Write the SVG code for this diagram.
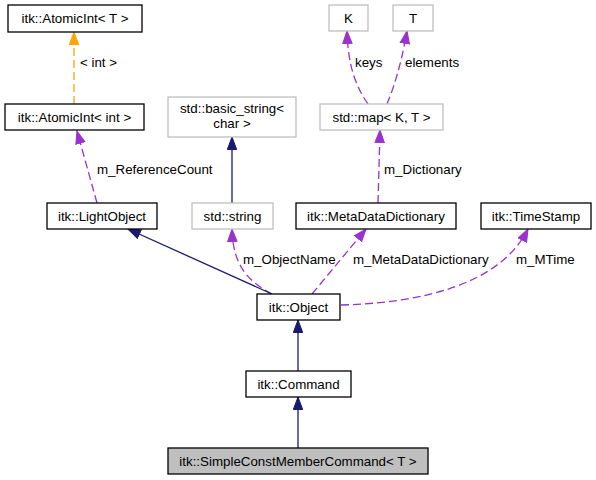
<svg xmlns="http://www.w3.org/2000/svg" width="596" height="480" viewBox="0 0 596 480">
<style>
text{font-family:"Liberation Sans",Arial,sans-serif;font-size:13.33px;fill:#000}
.n text{text-anchor:middle}
.b{fill:#fff;stroke:#000;stroke-width:1.3}
.g{fill:#fff;stroke:#bfbfbf;stroke-width:1.3}
.cur{fill:#bfbfbf;stroke:#000;stroke-width:1.3}
.e{fill:none;stroke-width:1.3}
.nav{stroke:#191970;marker-end:url(#mn)}
.pur{stroke:#9a32cd;stroke-dasharray:8,4;marker-end:url(#mp)}
.org{stroke:#ffa500;stroke-dasharray:8,4;marker-end:url(#mo)}
</style>
<defs>
<marker id="mn" markerUnits="userSpaceOnUse" markerWidth="14" markerHeight="11" viewBox="0 0 14 11" refX="13" refY="5.5" orient="auto"><path d="M0.5,0.8 L13,5.5 L0.5,10.2 z" fill="#191970" stroke="#191970"/></marker>
<marker id="mp" markerUnits="userSpaceOnUse" markerWidth="14" markerHeight="11" viewBox="0 0 14 11" refX="13" refY="5.5" orient="auto"><path d="M0.5,0.8 L13,5.5 L0.5,10.2 z" fill="#9a32cd" stroke="#9a32cd"/></marker>
<marker id="mo" markerUnits="userSpaceOnUse" markerWidth="14" markerHeight="11" viewBox="0 0 14 11" refX="13" refY="5.5" orient="auto"><path d="M0.5,0.8 L13,5.5 L0.5,10.2 z" fill="#ffa500" stroke="#ffa500"/></marker>
</defs>
<rect width="596" height="480" fill="#fff"/>
<g id="edges">
<path class="e org" d="M74,104 L74,32"/>
<path class="e pur" d="M97,203 L77,131"/>
<path class="e nav" d="M232,203 L232,137"/>
<path class="e pur" d="M272,294 C250,282 233,268 232,229"/>
<path class="e nav" d="M272,294 L128,229"/>
<path class="e pur" d="M312,294 L366,229"/>
<path class="e pur" d="M378,203 L380,130"/>
<path class="e pur" d="M368,104 C355,85 348,65 347,31"/>
<path class="e pur" d="M387,104 C395,85 402,60 407,31"/>
<path class="e pur" d="M341,305 C420,303 500,285 528,229"/>
<path class="e nav" d="M298,371 L298,320"/>
<path class="e nav" d="M298,448 L298,397"/>
<text x="80" y="67">&lt; int &gt;</text>
<text x="97" y="174">m_ReferenceCount</text>
<text x="243" y="264">m_ObjectName</text>
<text x="353" y="264">m_MetaDataDictionary</text>
<text x="384" y="174">m_Dictionary</text>
<text x="355" y="67">keys</text>
<text x="405" y="67">elements</text>
<text x="516" y="264">m_MTime</text>
</g>
<g id="atomicT" class="n"><rect class="b" x="8" y="5" width="134" height="27"/><text x="75" y="23">itk::AtomicInt&lt; T &gt;</text></g>
<g id="atomicInt" class="n"><rect class="b" x="5" y="104" width="139" height="26"/><text x="74.5" y="122">itk::AtomicInt&lt; int &gt;</text></g>
<g id="lightObject" class="n"><rect class="b" x="47" y="203" width="110" height="26"/><text x="102" y="221">itk::LightObject</text></g>
<g id="basicString" class="n"><rect class="g" x="168" y="97" width="128" height="40"/><text x="232" y="113">std::basic_string&lt;</text><text x="232" y="128">char &gt;</text></g>
<g id="stdString" class="n"><rect class="g" x="192" y="203" width="81" height="26"/><text x="232.5" y="221">std::string</text></g>
<g id="stdMap" class="n"><rect class="g" x="320" y="104" width="123" height="26"/><text x="381.5" y="122">std::map&lt; K, T &gt;</text></g>
<g id="K" class="n"><rect class="g" x="329" y="5" width="39" height="26"/><text x="348.5" y="23">K</text></g>
<g id="T" class="n"><rect class="g" x="393" y="5" width="40" height="26"/><text x="413" y="23">T</text></g>
<g id="metaData" class="n"><rect class="b" x="296" y="203" width="160" height="26"/><text x="376" y="221">itk::MetaDataDictionary</text></g>
<g id="timeStamp" class="n"><rect class="b" x="481" y="203" width="110" height="26"/><text x="536" y="221">itk::TimeStamp</text></g>
<g id="object" class="n"><rect class="b" x="257" y="294" width="83" height="26"/><text x="298.5" y="312">itk::Object</text></g>
<g id="command" class="n"><rect class="b" x="246" y="371" width="105" height="26"/><text x="298.5" y="389">itk::Command</text></g>
<g id="simpleConst" class="n"><rect class="cur" x="168" y="448" width="260" height="26"/><text x="298" y="466">itk::SimpleConstMemberCommand&lt; T &gt;</text></g>
</svg>
